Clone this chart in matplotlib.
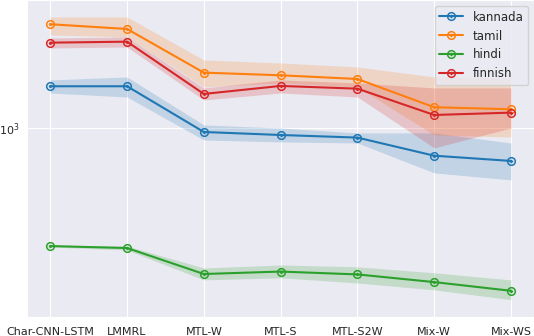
import matplotlib
matplotlib.use("Agg")
import matplotlib.pyplot as plt
import numpy as np
import seaborn as sns
from matplotlib.path import Path

models = ["Char-CNN-LSTM", "LMMRL", "MTL-W", "MTL-S", "MTL-S2W", "Mix-W", "Mix-WS"]

# perplexity per language, with the shaded band (low / high)
kannada = [1435, 1435, 963, 938, 917, 783, 748]
kannada_lo = [1353, 1307, 898, 883, 875, 674, 634]
kannada_hi = [1516, 1556, 1024, 997, 955, 955, 875]

tamil = [2465, 2365, 1616, 1579, 1529, 1195, 1174]
tamil_lo = [2245, 2206, 1426, 1477, 1426, 938, 922]
tamil_hi = [2627, 2627, 1805, 1758, 1698, 1556, 1543]

hindi = [356, 350, 279, 285, 278, 260, 241]
hindi_lo = [353, 344, 265, 270, 258, 243, 223]
hindi_hi = [359, 356, 294, 302, 297, 282, 265]

finnish = [2099, 2117, 1342, 1439, 1405, 1117, 1140]
finnish_lo = [2004, 2021, 1273, 1353, 1307, 838, 997]
finnish_hi = [2187, 2206, 1414, 1516, 1477, 1414, 1414]

series = [
    ("kannada", kannada, kannada_lo, kannada_hi),
    ("tamil", tamil, tamil_lo, tamil_hi),
    ("hindi", hindi, hindi_lo, hindi_hi),
    ("finnish", finnish, finnish_lo, finnish_hi),
]

sns.set_style("darkgrid")

# circle with a small cross inside
circ = Path.unit_circle()
s = 0.45
cross = Path([(-s, 0), (s, 0), (0, -s), (0, s)],
             [Path.MOVETO, Path.LINETO, Path.MOVETO, Path.LINETO])
marker = Path.make_compound_path(circ, cross)

fig = plt.figure(figsize=(5.34, 3.36), dpi=100)
ax = fig.add_axes([0.051, 0.057, 0.949, 0.943])

x = np.arange(len(models))
colors = sns.color_palette("tab10")
for (name, mean, lo, hi), c in zip(series, colors):
    ax.fill_between(x, lo, hi, color=c, alpha=0.2, lw=0)
    ax.plot(x, mean, color=c, lw=1.5, marker=marker, ms=5.5,
            mfc="none", mec=c, mew=1.1, label=name)

ax.set_yscale("log")
ax.set_ylim(192, 3045)
ax.set_xticks(x)
ax.set_xticklabels(models, fontsize=8)
ax.tick_params(axis="y", labelsize=8, pad=2)
ax.legend(loc="upper right", fontsize=8.5)

fig.savefig("out.png", dpi=100)
